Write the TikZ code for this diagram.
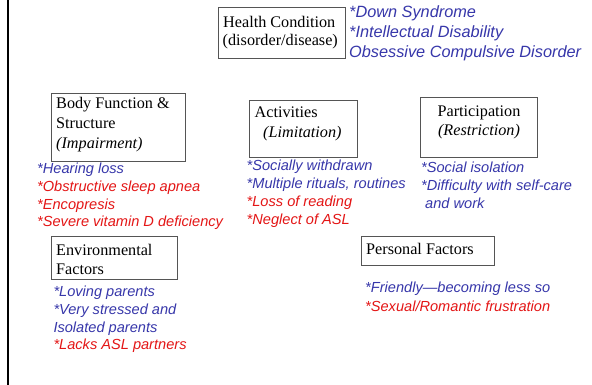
\documentclass[tikz,border=0pt]{standalone}
\usepackage{fontspec}
\setmainfont{Liberation Serif}
\newfontfamily\listfont[Ligatures=TeX]{Liberation Sans}
\definecolor{itemblue}{RGB}{55,55,170}
\definecolor{itemred}{RGB}{228,22,22}
\definecolor{boxline}{RGB}{85,85,85}
\begin{document}
\begin{tikzpicture}[x=1pt,y=-1pt,
  box/.style={draw=boxline,line width=0.8pt,anchor=north west,inner sep=0pt,outer sep=0pt},
  label/.style={anchor=base west,inner sep=0pt,font=\fontsize{16.2}{19.5}\selectfont},
  clabel/.style={anchor=base,inner sep=0pt,font=\fontsize{16.2}{19.5}\selectfont},
  item/.style={anchor=base west,inner sep=0pt,font=\listfont\itshape\fontsize{14.6}{18}\selectfont},
  bigitem/.style={anchor=base west,inner sep=0pt,font=\listfont\itshape\fontsize{16.3}{20}\selectfont},
  blueitem/.style={item,text=itemblue},
  reditem/.style={item,text=itemred}]
\useasboundingbox (0,0) rectangle (592,385);
\fill[white] (0,0) rectangle (592,385);
% left margin rule
\coordinate (ruletop) at (8.3,0);
\coordinate (rulebot) at (8.3,385);
\draw[line width=2pt] (ruletop) -- (rulebot);

% Health condition
\node[box,minimum width=127pt,minimum height=51pt] (hcbox) at (218,7) {};
\node[label] (hc1) at (223,27.5) {Health Condition};
\node[label] (hc2) at (222.5,46) {(disorder/disease)};
\node[bigitem,text=itemblue] (hci1) at (349,17.8) {*Down Syndrome};
\node[bigitem,text=itemblue] (hci2) at (349,37.8) {*Intellectual Disability};
\node[bigitem,text=itemblue] (hci3) at (349,57.8) {Obsessive Compulsive Disorder};

% Body function & structure
\node[box,minimum width=134pt,minimum height=68.5pt] (bfbox) at (51,93) {};
\node[label] (bf1) at (56,109) {Body Function \&};
\node[label] (bf2) at (56,129) {Structure};
\node[label,font=\itshape\fontsize{16.2}{19.5}\selectfont] (bf3) at (56,148.5) {(Impairment)};
\node[blueitem] (bfi1) at (37,173.2) {*Hearing loss};
\node[reditem] (bfi2) at (37,191.2) {*Obstructive sleep apnea};
\node[reditem] (bfi3) at (37,209) {*Encopresis};
\node[reditem] (bfi4) at (37,226.7) {*Severe vitamin D deficiency};

% Activities
\node[box,minimum width=108pt,minimum height=56.5pt] (acbox) at (249,100.5) {};
\node[label] (ac1) at (254.5,118) {Activities};
\node[label,font=\itshape\fontsize{16.2}{19.5}\selectfont] (ac2) at (263,137.5) {(Limitation)};
\node[blueitem] (aci1) at (246.5,170.5) {*Socially withdrawn};
\node[blueitem] (aci2) at (246.5,188.8) {*Multiple rituals, routines};
\node[reditem] (aci3) at (246.5,207) {*Loss of reading};
\node[reditem] (aci4) at (246.5,224.8) {*Neglect of ASL};

% Participation
\node[box,minimum width=117pt,minimum height=59.5pt] (pabox) at (420,97.5) {};
\node[clabel] (pa1) at (479,116.5) {Participation};
\node[clabel,font=\itshape\fontsize{16.2}{19.5}\selectfont] (pa2) at (479,135.5) {(Restriction)};
\node[blueitem] (pai1) at (421,172.2) {*Social isolation};
\node[blueitem] (pai2) at (421,190.5) {*Difficulty with self-care};
\node[blueitem] (pai3) at (425,208.8) {and work};

% Environmental factors
\node[box,minimum width=125.5pt,minimum height=43.5pt] (envbox) at (51.5,236) {};
\node[label] (env1) at (56,255.5) {Environmental};
\node[label] (env2) at (56,274.5) {Factors};
\node[blueitem] (envi1) at (53.3,296.5) {*Loving parents};
\node[blueitem] (envi2) at (53.3,314.5) {*Very stressed and};
\node[blueitem] (envi3) at (53.3,332.2) {Isolated parents};
\node[reditem] (envi4) at (53.3,349.8) {*Lacks ASL partners};

% Personal factors
\node[box,minimum width=132.5pt,minimum height=29pt] (pfbox) at (361.5,236) {};
\node[label] (pf1) at (366,254.5) {Personal Factors};
\node[blueitem] (pfi1) at (365,292.8) {*Friendly—becoming less so};
\node[reditem] (pfi2) at (365,311.2) {*Sexual/Romantic frustration};
\end{tikzpicture}
\end{document}
